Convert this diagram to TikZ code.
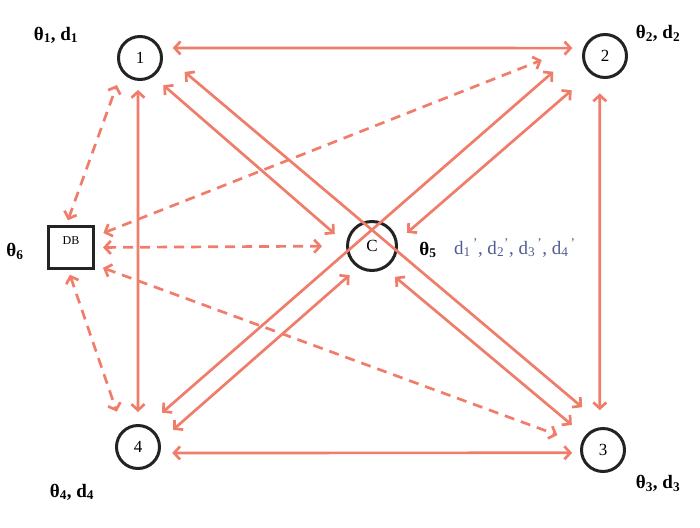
\documentclass[tikz,border=0pt]{standalone}
\usepackage{fontspec}
\setmainfont{Liberation Serif}
\usepackage{xcolor}
\usepackage{tikz}
\usetikzlibrary{arrows.meta}

\definecolor{salmon}{RGB}{240,124,106}
\definecolor{ink}{RGB}{35,35,35}
\definecolor{slate}{RGB}{80,92,148}

\begin{document}
\begin{tikzpicture}[x=1pt,y=-1pt,
 site/.style={circle,draw=ink,line width=3pt,minimum size=43pt,inner sep=0pt,font=\fontsize{17}{17}\selectfont},
 store/.style={rectangle,draw=ink,line width=3pt,minimum width=45pt,minimum height=42pt,inner sep=0pt},
 link/.style={{Straight Barb[length=6pt,width=13pt]}-{Straight Barb[length=6pt,width=13pt]},salmon,line width=2.7pt},
 query/.style={link,dash pattern=on 10pt off 7pt},
 lab/.style={font=\fontsize{19}{19}\selectfont\bfseries,inner sep=0pt}
]
\useasboundingbox (0,0) rectangle (700,527);

\node[site] (s1) at (140,58) {1};
\node[site] (s2) at (605,56) {2};
\node[site] (s3) at (603,450) {3};
\node[site] (s4) at (138,447) {4};
\node[site,minimum size=49pt] (cen) at (372,246) {C};
\node[store] (db) at (71,247.5) {};
\node[font=\fontsize{12}{12}\selectfont,inner sep=0pt] (dbtag) at (71,241) {DB};

% solid links between sites and the centre
\foreach \a/\b/\s/\e in {s1.26/s2.160/12/11, s4.-15/s3.187/12/8,
 s1.-95/s4.90/9/12, s2.-103/s3.98/15/17,
 s1.-54/cen.175/13/15, s1.12/s3.83/29/31, s2.147/s4.67/43/20,
 s2.231/cen.11/25/12.5, cen.-60/s3.142/13/17, cen.237/s4.15/11/17}
 \draw[link,shorten <=\s pt,shorten >=\e pt] (\a)--(\b);

% dashed links to the database
\foreach \a/\b/\s/\e in {db.102/s1.217/5/14, db.263/s4.131/5/19,
 db.25/s2.144/9/48, db.east/cen.west/8/24, db.-36/s3.164/8.5/25}
 \draw[query,shorten <=\s pt,shorten >=\e pt] (\a)--(\b);

\node[lab] (t1) at (56,35) {θ\textsubscript{1}, d\textsubscript{1}};
\node[lab] (t2) at (658,33) {θ\textsubscript{2}, d\textsubscript{2}};
\node[lab] (t3) at (658,483) {θ\textsubscript{3}, d\textsubscript{3}};
\node[lab] (t4) at (72,492) {θ\textsubscript{4}, d\textsubscript{4}};
\node[lab] (t5) at (428,250) {θ\textsubscript{5}};
\node[lab] (t6) at (15,251) {θ\textsubscript{6}};
\node[font=\fontsize{19}{19}\selectfont,text=slate,anchor=west,inner sep=0pt] (dset) at (454,248)
      {d\textsubscript{1}\textsuperscript{\,'}, d\textsubscript{2}\textsuperscript{'}, d\textsubscript{3}\textsuperscript{\,'}, d\textsubscript{4}\textsuperscript{\,'}};
\end{tikzpicture}
\end{document}
